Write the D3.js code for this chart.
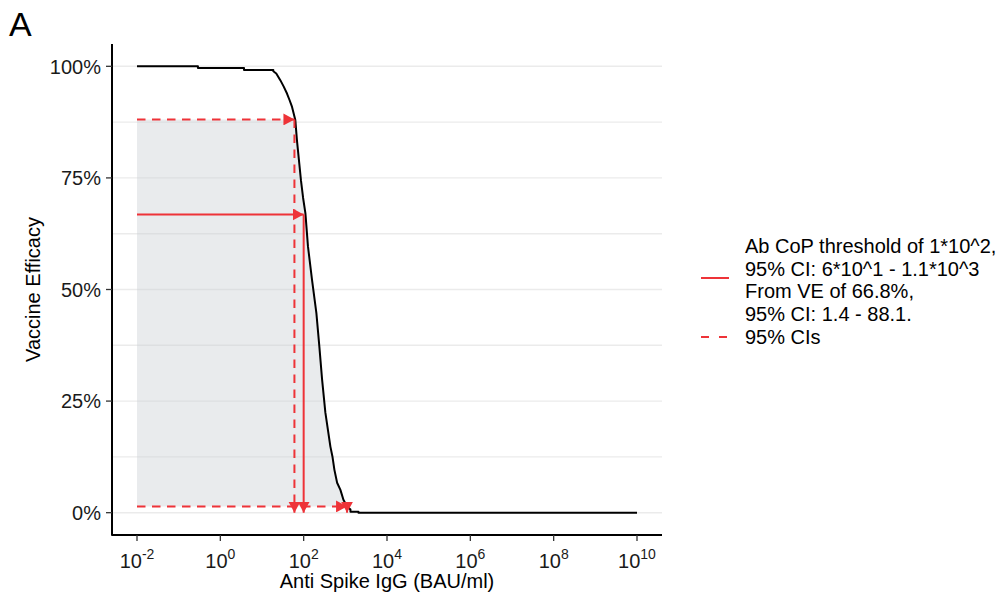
<!DOCTYPE html>
<html><head><meta charset="utf-8">
<script src="https://cdn.jsdelivr.net/npm/d3@7"></script>
<style>
body{margin:0;background:#fff;}
text{font-family:"Liberation Sans",Arial,Helvetica,sans-serif;}
</style>
</head><body>
<svg id="chart" width="999" height="602"></svg>
<script>
// ---------------- data ----------------
const antibody = [0.01, 0.29, 0.29, 3.7, 3.7, 18.7, 18.7, 22, 27.5, 33, 39.8, 46, 52.6, 63, 69, 77, 86, 97, 110, 127, 139, 159, 202, 238, 277, 332, 438, 490, 547, 635, 762, 900, 1104, 1327, 1327, 2065, 2065, 1e10];
const efficacy = [100, 100, 99.6, 99.6, 99.2, 99.2, 98.9, 98.4, 96.9, 95.5, 93.9, 92.4, 90.9, 88.0, 83.4, 79.0, 74.5, 70.5, 67.1, 59.6, 56.6, 52.1, 44.7, 37.2, 29.8, 22.4, 14.8, 12.6, 9.6, 6.7, 5.1, 2.9, 1.4, 0.7, 0.2, 0.2, 0, 0];

const xTickExponents = [-2, 0, 2, 4, 6, 8, 10];
const yTickValues = [0, 25, 50, 75, 100];
const yTickLabels = ["0%", "25%", "50%", "75%", "100%"];
const yGridValues = [0, 12.5, 25, 37.5, 50, 62.5, 75, 87.5, 100];

const abMin = 0.01, abMax = 1e10;
const threshold = 100, thresholdLow = 60, thresholdHigh = 1100;
const veEstimate = 66.8, veLow = 1.4, veHigh = 88.1;

const legendLines = ["Ab CoP threshold of 1*10^2,", "95% CI: 6*10^1 - 1.1*10^3", "From VE of 66.8%,", "95% CI: 1.4 - 88.1."];
const legendCI = "95% CIs";
const xTitle = "Anti Spike IgG (BAU/ml)";
const yTitle = "Vaccine Efficacy";
const panelTag = "A";

// ---------------- layout ----------------
const svg = d3.select("#chart");
const P = {left: 112, right: 662, top: 44, bottom: 535};
const RED = "#EE3338";

const lx0 = Math.log10(abMin), lx1 = Math.log10(abMax), lpad = (lx1 - lx0) * 0.05;
const x = d3.scaleLog().domain([Math.pow(10, lx0 - lpad), Math.pow(10, lx1 + lpad)]).range([P.left, P.right]);
const y = d3.scaleLinear().domain([-5, 105]).range([P.bottom, P.top]);

const data = antibody.map((a, i) => ({a, v: efficacy[i]}));

// markers
const defs = svg.append("defs");
defs.append("marker").attr("id", "arrow")
  .attr("markerUnits", "userSpaceOnUse")
  .attr("viewBox", "0 0 11 12").attr("markerWidth", 11).attr("markerHeight", 12)
  .attr("refX", 11).attr("refY", 6).attr("orient", "auto")
  .append("path").attr("d", "M0,0 L11,6 L0,12 Z").attr("fill", RED);

// gridlines
svg.append("g").selectAll("line").data(yGridValues).join("line")
  .attr("x1", P.left).attr("x2", P.right)
  .attr("y1", d => y(d)).attr("y2", d => y(d))
  .attr("stroke", "#EBEBEB").attr("stroke-width", 1.4);

// shaded CI area
const shade = data.filter(d => d.a <= thresholdHigh);
svg.append("path").datum(shade)
  .attr("d", d3.area().x(d => x(d.a)).y0(y(veLow)).y1(d => y(Math.max(veLow, Math.min(d.v, veHigh)))))
  .attr("fill", "#C9CDD3").attr("fill-opacity", 0.4);

// curve
svg.append("path").datum(data)
  .attr("d", d3.line().x(d => x(d.a)).y(d => y(d.v)))
  .attr("fill", "none").attr("stroke", "#000").attr("stroke-width", 2).attr("stroke-linejoin", "round");

// arrows
const arrows = [
  {x1: abMin, y1: veHigh, x2: thresholdLow, y2: veHigh, dash: true},
  {x1: thresholdLow, y1: veHigh, x2: thresholdLow, y2: 0, dash: true},
  {x1: abMin, y1: veLow, x2: thresholdHigh, y2: veLow, dash: true},
  {x1: thresholdHigh, y1: veLow, x2: thresholdHigh, y2: 0, dash: true},
  {x1: abMin, y1: veEstimate, x2: threshold, y2: veEstimate, dash: false},
  {x1: threshold, y1: veEstimate, x2: threshold, y2: 0, dash: false}
];
svg.append("g").selectAll("line").data(arrows).join("line")
  .attr("x1", d => x(d.x1)).attr("y1", d => y(d.y1))
  .attr("x2", d => x(d.x2)).attr("y2", d => y(d.y2))
  .attr("stroke", RED).attr("stroke-width", 2)
  .attr("stroke-dasharray", d => d.dash ? "8.5,6.5" : null)
  .attr("marker-end", "url(#arrow)");

// axes
const axG = svg.append("g");
axG.append("line").attr("x1", P.left).attr("x2", P.left).attr("y1", P.top).attr("y2", P.bottom + 0.5)
  .attr("stroke", "#000").attr("stroke-width", 2);
axG.append("line").attr("x1", P.left - 0.5).attr("x2", P.right).attr("y1", P.bottom).attr("y2", P.bottom)
  .attr("stroke", "#000").attr("stroke-width", 2);

// y ticks
axG.selectAll(".yt").data(yTickValues).join("line").attr("class", "yt")
  .attr("x1", P.left - 6).attr("x2", P.left).attr("y1", d => y(d)).attr("y2", d => y(d))
  .attr("stroke", "#333").attr("stroke-width", 1.3);
axG.selectAll(".yl").data(yTickValues).join("text").attr("class", "yl")
  .attr("x", P.left - 11).attr("y", d => y(d)).attr("dy", "0.36em")
  .attr("text-anchor", "end").attr("font-size", 20).attr("fill", "#1a1a1a")
  .text((d, i) => yTickLabels[i]);

// x ticks
axG.selectAll(".xt").data(xTickExponents).join("line").attr("class", "xt")
  .attr("x1", d => x(Math.pow(10, d))).attr("x2", d => x(Math.pow(10, d)))
  .attr("y1", P.bottom).attr("y2", P.bottom + 6)
  .attr("stroke", "#333").attr("stroke-width", 1.3);
const xl = axG.selectAll(".xl").data(xTickExponents).join("text").attr("class", "xl")
  .attr("x", d => x(Math.pow(10, d))).attr("y", 568)
  .attr("text-anchor", "middle").attr("fill", "#1a1a1a");
xl.append("tspan").attr("font-size", 20).text("10");
xl.append("tspan").attr("font-size", 14).attr("dy", -9).text(d => String(d));

// titles
svg.append("text").attr("x", (P.left + P.right) / 2).attr("y", 588)
  .attr("text-anchor", "middle").attr("font-size", 20).attr("fill", "#000").text(xTitle);
svg.append("text").attr("transform", `translate(40,${(P.top + P.bottom) / 2}) rotate(-90)`)
  .attr("text-anchor", "middle").attr("font-size", 20).attr("fill", "#000").text(yTitle);
svg.append("text").attr("x", 9).attr("y", 36).attr("font-size", 34).attr("fill", "#000").text(panelTag);

// legend
const lg = svg.append("g");
lg.append("line").attr("x1", 701).attr("x2", 729).attr("y1", 278).attr("y2", 278)
  .attr("stroke", RED).attr("stroke-width", 2);
lg.selectAll(".lt").data(legendLines).join("text").attr("class", "lt")
  .attr("x", 745).attr("y", (d, i) => 253 + i * 22.5)
  .attr("font-size", 20).attr("fill", "#000").text(d => d);
lg.append("line").attr("x1", 701).attr("x2", 729).attr("y1", 337).attr("y2", 337)
  .attr("stroke", RED).attr("stroke-width", 2).attr("stroke-dasharray", "8,10");
lg.append("text").attr("x", 745).attr("y", 344).attr("font-size", 20).attr("fill", "#000").text(legendCI);
</script>
</body></html>
